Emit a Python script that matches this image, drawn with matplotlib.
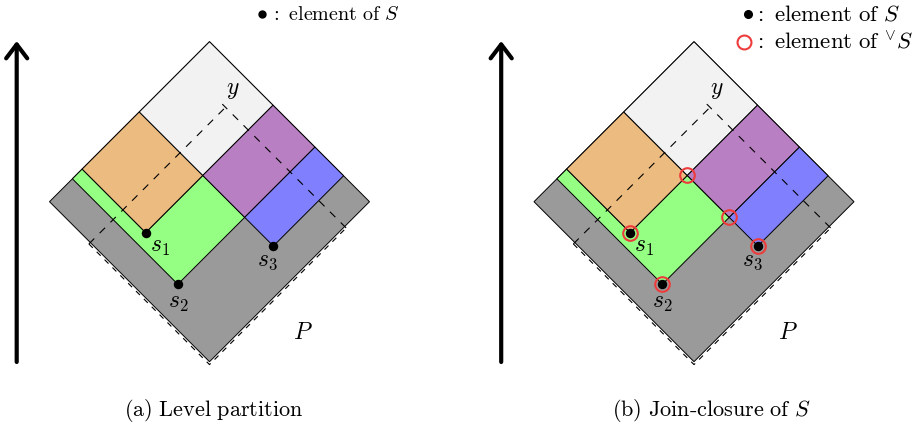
import numpy as np
import matplotlib
matplotlib.use("Agg")
import matplotlib.pyplot as plt
from matplotlib.patches import Polygon
from matplotlib.transforms import Affine2D

plt.rcParams['mathtext.fontset'] = 'cm'
plt.rcParams['lines.scale_dashes'] = False

# lattice coordinates in the unit square: a = up-right axis, b = up-left axis
s_labels = ['$s_1$', '$s_2$', '$s_3$']
s_a = [0.204, 0.143, 0.561]
s_b = [0.603, 0.341, 0.162]
y_a, y_b = 0.845, 0.745

captions = [r'$\mathrm{(a)\ Level\ partition}$', r'$\mathrm{(b)\ Join\text{-}closure\ of}\ S$']

c_gray = '#9a9a9a'
c_green = '#94ff82'
c_orange = '#ecbb80'
c_white = '#f2f2f2'
c_purple = '#b880c2'
c_blue = '#8080ff'
c_red = '#ee3b3b'

fig = plt.figure(figsize=(9.2, 4.28), dpi=100)
ax = fig.add_axes([0, 0, 1, 1])
ax.set_xlim(0, 920)
ax.set_ylim(0, 428)
ax.axis('off')

a1, a2, a3 = s_a
b1, b2, b3 = s_b


def rect(a0, a1_, b0, b1_):
    return [(a0, b0), (a1_, b0), (a1_, b1_), (a0, b1_)]


def draw_panel(cx, joins):
    T = Affine2D().rotate_deg(45).scale(160 * np.sqrt(2)).translate(cx, 66.3) + ax.transData
    polys = [
        (rect(0, 1, 0, 1), c_gray),
        ([(a2, b2), (a3, b2), (a3, b1), (a1, b1), (a1, 1), (a2, 1)], c_green),
        (rect(a1, a3, b1, 1), c_orange),
        (rect(a3, 1, b1, 1), c_white),
        (rect(a3, 1, b2, b1), c_purple),
        (rect(a3, 1, b3, b2), c_blue),
    ]
    for pts, c in polys:
        ax.add_patch(Polygon(pts, closed=True, facecolor=c, edgecolor='black',
                             lw=0.7, transform=T))
    # dashed outline of the down-set of y
    d = 0.009
    e = 0.02
    ax.plot([-d, y_a + e], [y_b, y_b], color='k', lw=0.8, ls=(0, (5.5, 5.5)), transform=T)
    ax.plot([y_a, y_a], [-d, y_b + e], color='k', lw=0.8, ls=(0, (5.5, 5.5)), transform=T)
    ax.plot([-d, -d, y_a], [y_b, -d, -d], color='k', lw=0.8, ls=(0, (4, 4)), transform=T)
    ax.annotate('$y$', (y_a, y_b), xytext=(5, 13), textcoords='offset points',
                xycoords=T, fontsize=17, ha='center', va='center')
    # elements of S
    ax.plot(s_a, s_b, 'o', color='k', ms=5.8, transform=T, zorder=5)
    offs = [(10, -10), (0, -13), (-4, -10)]
    for lab, sa, sb, o in zip(s_labels, s_a, s_b, offs):
        ax.annotate(lab, (sa, sb), xytext=o, textcoords='offset points', xycoords=T,
                    fontsize=17, ha='center', va='center')
    if joins:
        ja = list(s_a) + [a3, a3]
        jb = list(s_b) + [b1, b2]
        ax.plot(ja, jb, 'o', mfc='none', mec=c_red, ms=10.5, mew=1.5, transform=T, zorder=6)
    ax.text(0.385, -0.2, '$P$', transform=T, fontsize=17, ha='center', va='center')
    # vertical arrow
    ax.annotate('', xy=(cx - 192.8, 387), xytext=(cx - 192.8, 66),
                arrowprops=dict(arrowstyle='->, head_length=0.5, head_width=0.38',
                                lw=3, color='k', mutation_scale=20,
                                shrinkA=0, shrinkB=0))


draw_panel(209.5, False)
draw_panel(694.0, True)

# legends
ax.plot([262], [414], 'o', color='k', ms=5)
ax.text(270, 414, r'$:\ \mathrm{element\ of}\ S$', fontsize=14.5, ha='left', va='center')
ax.plot([748], [414], 'o', color='k', ms=5.5)
ax.text(753, 414, r'$:\ \mathrm{element\ of}\ S$', fontsize=16.5, ha='left', va='center')
ax.plot([744], [386], 'o', mfc='none', mec=c_red, ms=10, mew=1.5)
ax.text(753, 386, r'$:\ \mathrm{element\ of}\ {}^{\vee}S$', fontsize=16.5, ha='left', va='center')

# captions
ax.text(214, 18, captions[0], fontsize=16, ha='center', va='center')
ax.text(711, 18, captions[1], fontsize=16, ha='center', va='center')

fig.savefig('out.png', dpi=100)
